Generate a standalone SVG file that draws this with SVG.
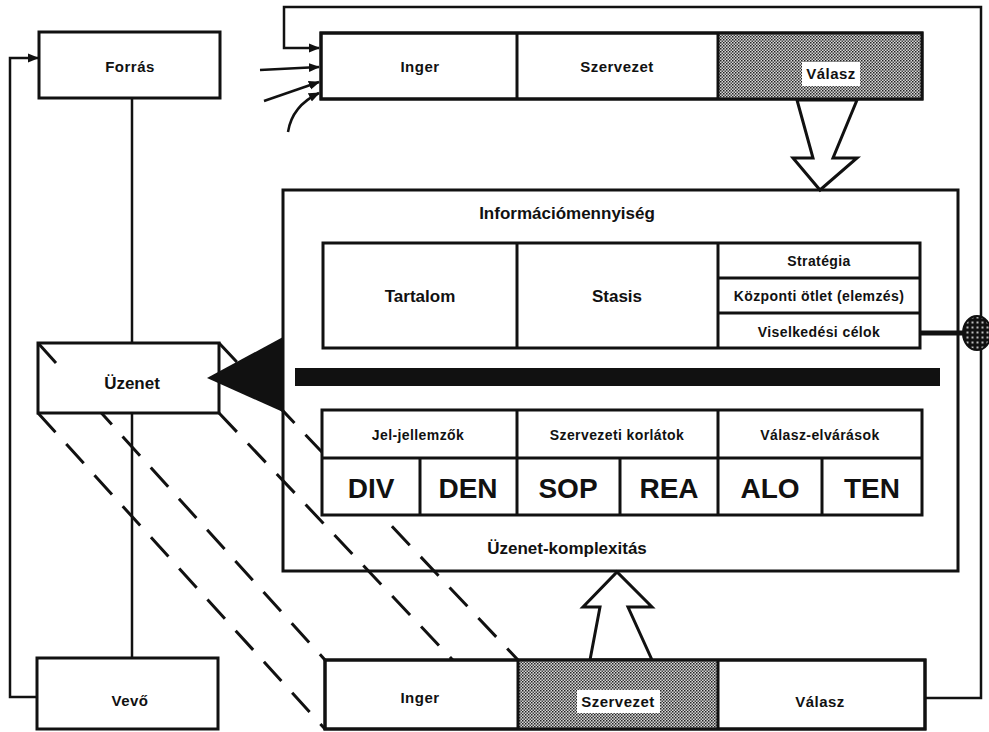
<svg xmlns="http://www.w3.org/2000/svg" width="989" height="732" viewBox="0 0 989 732">
<style>
.box{fill:#fff;stroke:#111;stroke-width:3}
.open{fill:none;stroke:#111;stroke-width:3}
.ln{fill:none;stroke:#111;stroke-width:2.5}
.dash{fill:none;stroke:#111;stroke-width:3;stroke-dasharray:26 16}
.t{font-family:"Liberation Sans",Arial,sans-serif;font-weight:bold;fill:#111;text-anchor:middle}
.m{font-size:15px;letter-spacing:0.5px}
.s{font-size:14px;letter-spacing:0.4px}
.l{font-size:17px}
.u{font-size:17px}
.b{font-size:28px}
</style>
<defs>
<pattern id="dots" width="3" height="3" patternUnits="userSpaceOnUse">
<rect width="3" height="3" fill="#d8d8d8"/>
<rect x="0" y="0" width="1.5" height="1.5" fill="#222"/>
<rect x="1.5" y="1.5" width="1.5" height="1.5" fill="#444"/>
</pattern>
<pattern id="grid" width="5" height="5" patternUnits="userSpaceOnUse">
<rect width="5" height="5" fill="#111"/>
<rect x="1.5" y="1.5" width="2" height="2" fill="#bbb"/>
</pattern>
<marker id="ah" viewBox="0 0 10 10" refX="9" refY="5" markerWidth="4.5" markerHeight="4.5" orient="auto" markerUnits="strokeWidth">
<path d="M0,1 L10,5 L0,9 Z" fill="#111"/>
</marker>
</defs>

<g id="connectors">
<polyline class="ln" points="37,697 10,697 10,58 38,58" marker-end="url(#ah)"/>
<line class="ln" x1="132" y1="98" x2="132" y2="658"/>
<polyline class="ln" points="925,698 981,698 981,7 284,7 284,48 319,48" marker-end="url(#ah)"/>
<line class="ln" x1="260" y1="70" x2="319" y2="67" marker-end="url(#ah)"/>
<line class="ln" x1="264" y1="101" x2="319" y2="82" marker-end="url(#ah)"/>
<path class="ln" d="M288,132 Q292,106 319,93" marker-end="url(#ah)"/>
<line class="dash" x1="38" y1="413" x2="325" y2="729"/>
<line class="dash" x1="38" y1="343" x2="325" y2="660"/>
<line class="dash" x1="219" y1="413" x2="518" y2="729"/>
<line class="dash" x1="219" y1="343" x2="518" y2="660"/>
<line x1="920" y1="333" x2="964" y2="333" stroke="#111" stroke-width="5"/>
<ellipse cx="977" cy="333" rx="14" ry="17" fill="url(#grid)" stroke="#111" stroke-width="2"/>
<polygon points="797,100 813,158 793,158 820,190 857,158 833,158 857,100" fill="#fff" stroke="#111" stroke-width="3"/>
<polygon points="590,660 600,607 583,607 617,572 652,607 628,607 652,660" fill="#fff" stroke="#111" stroke-width="3"/>
</g>

<g id="forras">
<rect class="box" x="39" y="32" width="181" height="66"/>
<text class="t m" x="130" y="72">Forrás</text>
</g>

<g id="uzenet">
<rect class="box" x="38" y="343" width="181" height="70"/>
<line x1="38" y1="343" x2="56" y2="363" stroke="#111" stroke-width="3"/>
<text class="t u" x="132" y="389">Üzenet</text>
</g>

<g id="vevo">
<rect class="box" x="37" y="658" width="181" height="71"/>
<text class="t m" x="130" y="706">Vevő</text>
</g>

<g id="top-row">
<rect class="box" x="321" y="33" width="601" height="66"/>
<rect x="718" y="33" width="204" height="66" fill="url(#dots)"/>
<rect class="open" x="321" y="33" width="601" height="66"/>
<line class="open" x1="517" y1="33" x2="517" y2="99"/>
<line class="open" x1="718" y1="33" x2="718" y2="99"/>
<text class="t m" x="420" y="72">Inger</text>
<text class="t m" x="617" y="72">Szervezet</text>
<rect x="802" y="62" width="58" height="24" fill="#fff"/>
<text class="t m" x="831" y="79">Válasz</text>
</g>

<g id="info-box">
<rect class="open" x="283" y="190" width="675" height="381"/>
<text class="t l" x="567" y="219">Információmennyiség</text>
</g>

<g id="upper-table">
<rect class="box" x="323" y="243" width="597" height="105"/>
<line class="open" x1="517" y1="243" x2="517" y2="348"/>
<line class="open" x1="718" y1="243" x2="718" y2="348"/>
<line class="open" x1="718" y1="278" x2="920" y2="278"/>
<line class="open" x1="718" y1="313" x2="920" y2="313"/>
<text class="t l" x="420" y="302">Tartalom</text>
<text class="t l" x="617" y="302">Stasis</text>
<text class="t s" x="819" y="266">Stratégia</text>
<text class="t s" x="819" y="301">Központi ötlet (elemzés)</text>
<text class="t s" x="819" y="337">Viselkedési célok</text>
</g>

<g id="black-bar">
<rect x="295" y="368" width="645" height="18" fill="#111"/>
</g>

<g id="triangle">
<polygon points="283,337 283,412 207,378" fill="#111"/>
</g>

<g id="lower-table">
<rect class="box" x="322" y="410" width="600" height="105"/>
<line class="open" x1="322" y1="458" x2="922" y2="458"/>
<line class="open" x1="517" y1="410" x2="517" y2="515"/>
<line class="open" x1="718" y1="410" x2="718" y2="515"/>
<line class="open" x1="420" y1="458" x2="420" y2="515"/>
<line class="open" x1="620" y1="458" x2="620" y2="515"/>
<line class="open" x1="822" y1="458" x2="822" y2="515"/>
<text class="t s" x="418" y="440">Jel-jellemzők</text>
<text class="t s" x="617" y="440">Szervezeti korlátok</text>
<text class="t s" x="820" y="440">Válasz-elvárások</text>
<text class="t b" x="371" y="498">DIV</text>
<text class="t b" x="468" y="498">DEN</text>
<text class="t b" x="568" y="498">SOP</text>
<text class="t b" x="669" y="498">REA</text>
<text class="t b" x="770" y="498">ALO</text>
<text class="t b" x="872" y="498">TEN</text>
<text class="t l" x="567" y="554">Üzenet-komplexitás</text>
</g>

<g id="bottom-row">
<rect class="box" x="325" y="660" width="600" height="69"/>
<rect x="518" y="660" width="200" height="69" fill="url(#dots)"/>
<rect class="open" x="325" y="660" width="600" height="69"/>
<line class="open" x1="518" y1="660" x2="518" y2="729"/>
<line class="open" x1="718" y1="660" x2="718" y2="729"/>
<text class="t m" x="420" y="703">Inger</text>
<rect x="577" y="690" width="83" height="23" fill="#fff"/>
<text class="t m" x="618" y="707">Szervezet</text>
<text class="t m" x="820" y="707">Válasz</text>
</g>
</svg>
